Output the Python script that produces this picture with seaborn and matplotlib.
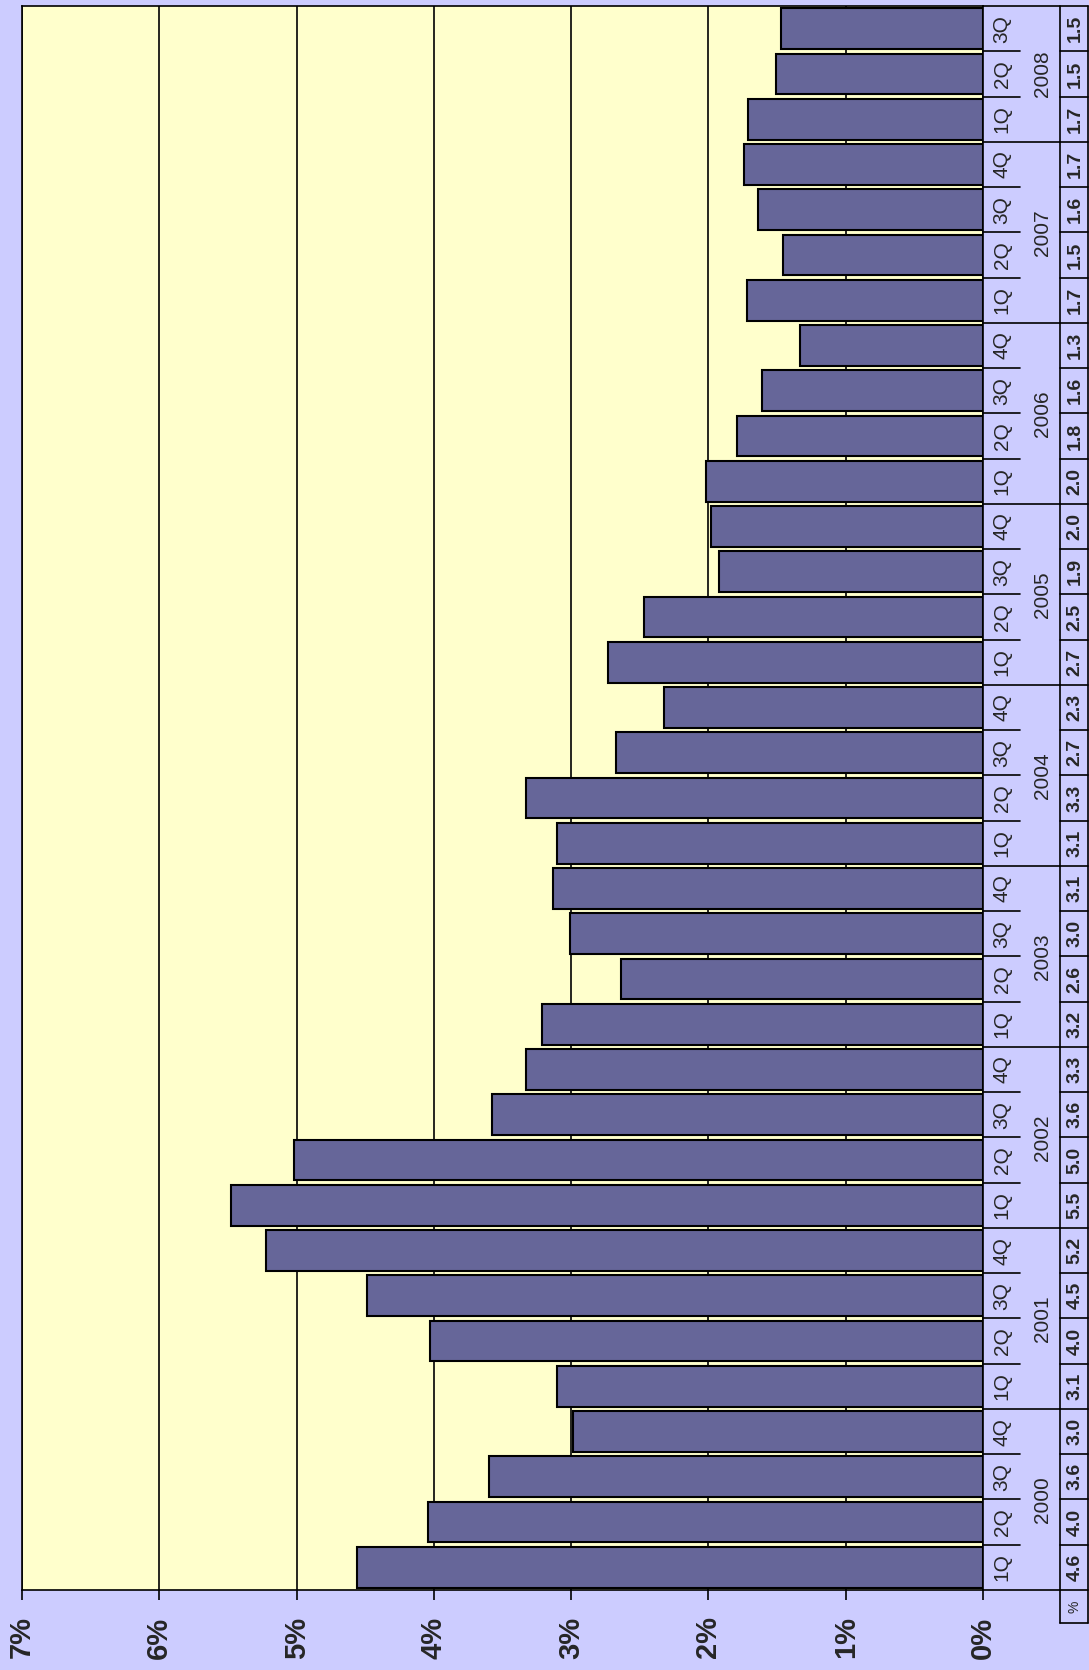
import matplotlib
matplotlib.use('Agg')
import matplotlib.pyplot as plt
import matplotlib.transforms as mtransforms
import pandas as pd
import seaborn as sns

# quarterly values in %, oldest first (2000 1Q ... 2008 3Q)
years = ['2000', '2001', '2002', '2003', '2004', '2005', '2006', '2007', '2008']
quarters = ['1Q', '2Q', '3Q', '4Q']
values = [4.56, 4.04, 3.60, 2.99,
          3.10, 4.03, 4.49, 5.22,
          5.48, 5.02, 3.58, 3.33,
          3.21, 2.64, 3.01, 3.13,
          3.10, 3.33, 2.67, 2.32,
          2.73, 2.47, 1.92, 1.98,
          2.02, 1.79, 1.61, 1.33,
          1.72, 1.46, 1.64, 1.74,
          1.71, 1.51, 1.47]
x_ticks = [0, 1, 2, 3, 4, 5, 6, 7]

period_year = []
period_q = []
for y in years:
    for q in quarters:
        if len(period_year) < len(values):
            period_year.append(y)
            period_q.append(q)

df = pd.DataFrame({'period': [y + ' ' + q for y, q in zip(period_year, period_q)],
                   'pct': values})
order = list(df['period'])[::-1]   # newest on top
n = len(values)

sns.set_style('ticks')
plt.rcParams['font.family'] = ['Liberation Sans', 'DejaVu Sans']

fig = plt.figure(figsize=(10.89, 16.70), dpi=100, facecolor='#CCCCFF')
ax = fig.add_axes([22 / 1089, 80 / 1670, 961 / 1089, 1584 / 1670])
ax.set_facecolor('#FFFFCC')

sns.barplot(data=df, x='pct', y='period', order=order, color='#666699', saturation=1,
            width=0.9, edgecolor='black', linewidth=1.5, ax=ax)

ax.set_xlim(7, 0)
ax.set_ylim(n - 0.5, -0.5)
ax.set_xticks(x_ticks)
ax.set_xticklabels([f'{t}%' for t in x_ticks], rotation=90, fontsize=21, fontweight='bold')
ax.tick_params(axis='x', direction='out', length=7, width=1.2, pad=12, color='black')
ax.set_yticks([])
ax.set_xlabel('')
ax.set_ylabel('')
ax.grid(axis='x', color='black', linewidth=1.2)
ax.grid(axis='y', visible=False)
ax.set_axisbelow(True)
for s in ax.spines.values():
    s.set_visible(True)
    s.set_color('black')
    s.set_linewidth(1.2)

# data table at the right
trans = mtransforms.blended_transform_factory(ax.transAxes, ax.transData)
x_q = 1.0385
x_v = 1.0801
x_r = 1.1093
lw = 1.2
bottom_cell = n - 0.5 + 33 / 45.26

def pos(i):
    return n - 1 - i

for i in range(n):
    p = pos(i)
    ax.text(1.0198, p, period_q[i], transform=trans, rotation=90, fontsize=15,
            ha='center', va='center')
    ax.text(1.0955, p, f'{values[i]:.1f}', transform=trans, rotation=90, fontsize=14,
            fontweight='bold', ha='center', va='center')
    # boundary below this cell
    b = p + 0.5
    if i == 0:
        ax.plot([1.0, x_r], [b, b], transform=trans, color='black', lw=lw, clip_on=False)
    elif period_q[i] == '1Q':
        ax.plot([1.0, x_v], [b, b], transform=trans, color='black', lw=lw, clip_on=False)
        ax.plot([x_v, x_r], [b, b], transform=trans, color='black', lw=lw, clip_on=False)
    else:
        ax.plot([1.0, x_q], [b, b], transform=trans, color='black', lw=lw, clip_on=False)
        ax.plot([x_v, x_r], [b, b], transform=trans, color='black', lw=lw, clip_on=False)

for y in years:
    idx = [i for i in range(n) if period_year[i] == y]
    mid = (pos(idx[0]) + pos(idx[-1])) / 2
    ax.text(1.0624, mid, y, transform=trans, rotation=90, fontsize=15,
            ha='center', va='center')

ax.plot([1.0, x_r], [-0.5, -0.5], transform=trans, color='black', lw=lw, clip_on=False)
ax.plot([x_v, x_v], [-0.5, bottom_cell], transform=trans, color='black', lw=lw, clip_on=False)
ax.plot([x_r, x_r], [-0.5, bottom_cell], transform=trans, color='black', lw=lw, clip_on=False)
ax.plot([x_v, x_r], [bottom_cell, bottom_cell], transform=trans, color='black', lw=lw, clip_on=False)
ax.text(1.0947, n - 0.5 + 17 / 45.26, '%', transform=trans, rotation=90, fontsize=10,
        ha='center', va='center')

fig.savefig('out.png', dpi=100, facecolor=fig.get_facecolor())
